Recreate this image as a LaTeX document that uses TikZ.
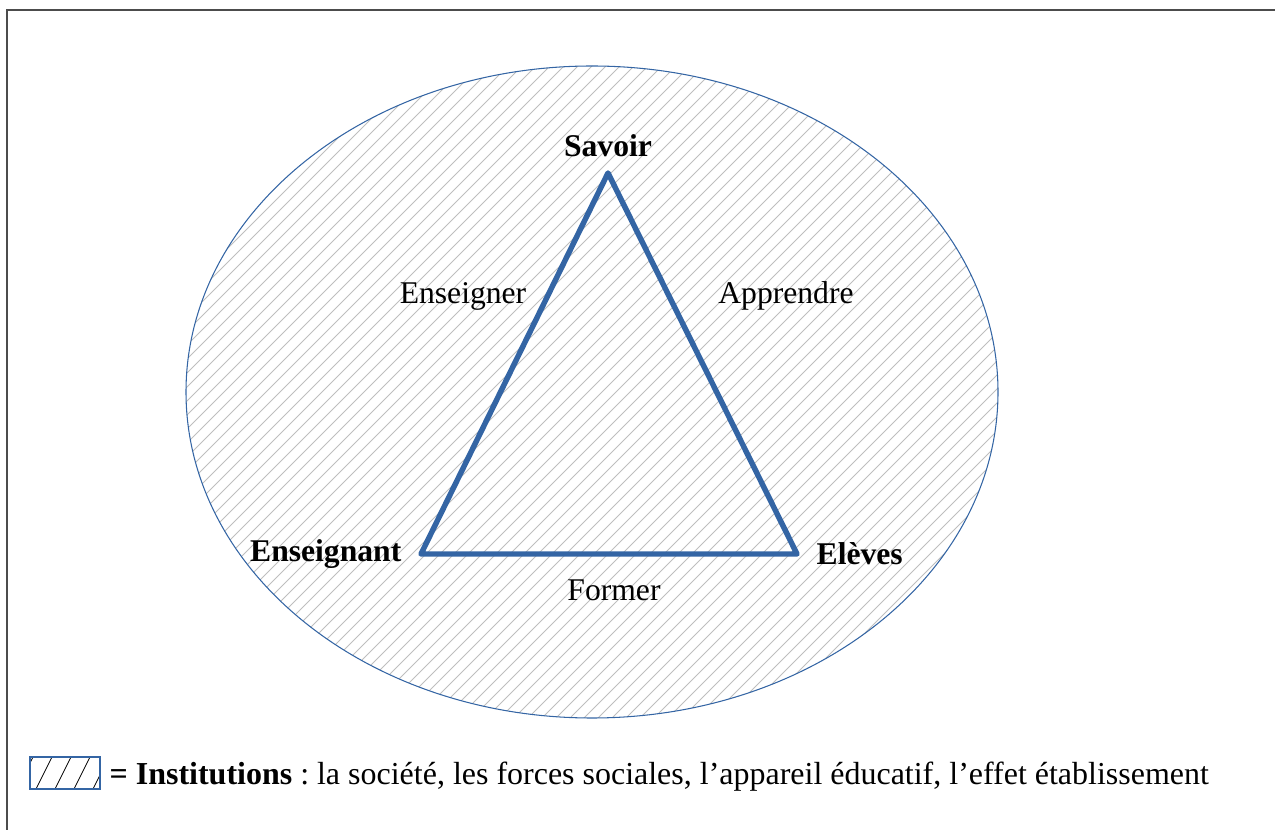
\documentclass[tikz,border=0pt]{standalone}
\usepackage{fontspec}
\setmainfont{Liberation Serif}
\usepackage{tikz}
\usetikzlibrary{positioning}
\definecolor{triblue}{RGB}{52,101,164}
\definecolor{hatchgray}{RGB}{190,190,190}
\frenchspacing

\begin{document}
\begin{tikzpicture}[x=0.02cm, y=-0.02cm]
	\tikzstyle{main}=[font=\fontsize{18}{22}\selectfont\bfseries, inner sep=1pt]
	\tikzstyle{verb}=[font=\fontsize{18}{22}\selectfont, inner sep=1pt]
	\tikzstyle{side}=[line width=3.1pt, draw=triblue, line join=round]
	\useasboundingbox (0,0) rectangle (1275,830);
	\draw[line width=0.9pt, black!70] (7,830) -- (7,10) -- (1275,10);
	% the institutions
	\begin{scope}
		\clip (592,392) ellipse [x radius=406, y radius=326];
		\foreach \x in {-520,-506,...,1000}
			\draw[hatchgray, line width=0.5pt] (\x,730) -- (\x+700,30);
	\end{scope}
	\draw[triblue, line width=0.6pt] (592,392) ellipse [x radius=406, y radius=326];
	% the triangle
	\coordinate (top) at (608,173);
	\coordinate (left) at (421,554);
	\coordinate (right) at (797,554);
	\draw[side] (top) -- (left) -- (right) -- cycle;
	\node[main, above=8pt of top] (savoir) {Savoir};
	\node[main, left=10pt of left] (enseignant) {Enseignant};
	\node[main, right=10pt of right] (eleves) {Elèves};
	\node[verb] (enseigner) at (463,296) {Enseigner};
	\node[verb] (apprendre) at (786,296) {Apprendre};
	\node[verb] (former) at (614,590) {Former};
	% legend
	\begin{scope}
		\clip (30,757) rectangle (100,789);
		\foreach \x in {17,36,...,100}
			\draw[black, line width=0.5pt] (\x,789) -- (\x+16,757);
	\end{scope}
	\node[draw=triblue, line width=0.6pt, minimum width=70*0.02cm, minimum height=32*0.02cm, inner sep=0pt] (key) at (65,773) {};
	\node[verb, font=\fontsize{18.2}{22}\selectfont, anchor=west, right=4pt of key, yshift=-2pt] (legend) {\textbf{= Institutions} : la société, les forces sociales, l’appareil éducatif, l’effet établissement};
\end{tikzpicture}
\end{document}
